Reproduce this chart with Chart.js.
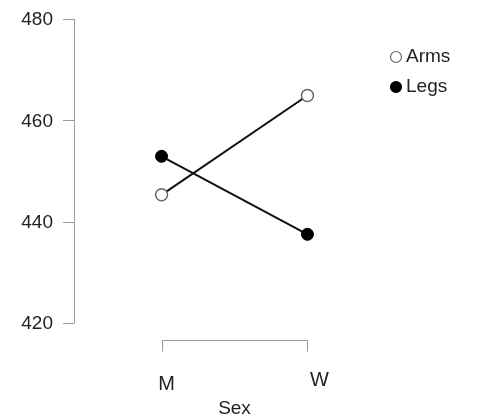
<!DOCTYPE html>
<html><head><meta charset="utf-8">
<script src="https://cdn.jsdelivr.net/npm/chart.js@4/dist/chart.umd.min.js"></script>
<style>html,body{margin:0;padding:0;background:#fff}#wrap{width:502px;height:419px}</style>
</head><body><div id="wrap"><canvas id="c" width="502" height="419"></canvas></div>
<script>
const categories = ['M', 'W'];
const seriesNames = ['Arms', 'Legs'];
const armsValues = [445.3, 464.9];
const legsValues = [452.9, 437.5];
const yTicks = [420, 440, 460, 480];
const xTitle = 'Sex';

const FONT = '"Liberation Sans", Arial, sans-serif';
const toPts = vals => vals.map((v, i) => ({x: i + 1, y: v}));

const axesPlugin = {
  id: 'rAxes',
  afterDraw(chart) {
    const ctx = chart.ctx, xs = chart.scales.x, ys = chart.scales.y;
    const left = chart.chartArea.left;
    ctx.save();
    ctx.strokeStyle = '#9a9a9a';
    ctx.lineWidth = 1;
    // y axis
    const yTop = ys.getPixelForValue(yTicks[yTicks.length - 1]);
    const yBot = ys.getPixelForValue(yTicks[0]);
    ctx.beginPath();
    ctx.moveTo(left + 0.5, yTop); ctx.lineTo(left + 0.5, yBot);
    yTicks.forEach(t => {
      const py = Math.round(ys.getPixelForValue(t)) + 0.5;
      ctx.moveTo(left - 11, py); ctx.lineTo(left + 0.5, py);
    });
    ctx.stroke();
    ctx.fillStyle = '#222';
    ctx.font = '19px ' + FONT;
    ctx.textAlign = 'right'; ctx.textBaseline = 'middle';
    yTicks.forEach(t => ctx.fillText(String(t), left - 21, ys.getPixelForValue(t) + 1));
    // x axis bracket
    const yb = 340.5;
    const x0 = Math.round(xs.getPixelForValue(1)) + 0.5;
    const x1 = Math.round(xs.getPixelForValue(categories.length)) + 0.5;
    ctx.beginPath();
    ctx.moveTo(x0, yb + 11); ctx.lineTo(x0, yb); ctx.lineTo(x1, yb); ctx.lineTo(x1, yb + 11);
    ctx.stroke();
    const dx = [5, 12], dy = [384, 380];
    ctx.textAlign = 'center';
    ctx.font = '20px ' + FONT;
    categories.forEach((c, i) => ctx.fillText(c, xs.getPixelForValue(i + 1) + dx[i], dy[i]));
    ctx.font = '19px ' + FONT;
    ctx.fillText(xTitle, (xs.getPixelForValue(1) + xs.getPixelForValue(categories.length)) / 2, 409);
    // legend
    const lx = 396, ly = [57, 87];
    chart.data.datasets.forEach((ds, i) => {
      ctx.beginPath();
      ctx.arc(lx, ly[i], 5.5, 0, Math.PI * 2);
      ctx.fillStyle = ds.pointBackgroundColor;
      ctx.fill();
      ctx.lineWidth = 1.2;
      ctx.strokeStyle = ds.pointBorderColor;
      ctx.stroke();
      ctx.fillStyle = '#222';
      ctx.textAlign = 'left';
      ctx.font = '19px ' + FONT;
      ctx.fillText(ds.label, lx + 10, ly[i]);
    });
    ctx.restore();
  }
};

new Chart(document.getElementById('c'), {
  type: 'line',
  data: {
    datasets: [
      {label: seriesNames[0], data: toPts(armsValues), borderColor: '#111', borderWidth: 2,
       pointRadius: 6, pointBackgroundColor: '#ffffff', pointBorderColor: '#666', pointBorderWidth: 1.5, clip: false},
      {label: seriesNames[1], data: toPts(legsValues), borderColor: '#111', borderWidth: 2,
       pointRadius: 6, pointBackgroundColor: '#000000', pointBorderColor: '#000000', pointBorderWidth: 1, clip: false}
    ]
  },
  options: {
    responsive: false, animation: false, devicePixelRatio: 1,
    layout: {padding: {left: 74, top: 19, right: 107, bottom: 96}},
    plugins: {legend: {display: false}, tooltip: {enabled: false}},
    scales: {
      x: {type: 'linear', min: 0.4, max: 2.6, display: false},
      y: {type: 'linear', min: 420, max: 480, display: false}
    }
  },
  plugins: [axesPlugin]
});
</script></body></html>
